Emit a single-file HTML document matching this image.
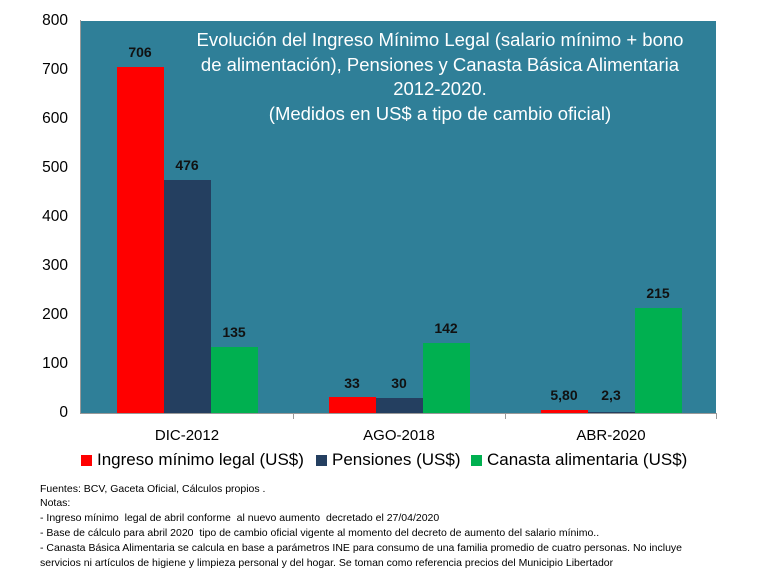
<!DOCTYPE html>
<html><head><meta charset="utf-8"><style>
body{margin:0;width:768px;height:576px;background:#fff;position:relative;overflow:hidden;font-family:"Liberation Sans",sans-serif}
.a{position:absolute}
.yl{position:absolute;right:700px;font-size:15.5px;color:#000;line-height:16px}
.bar{position:absolute}
.v{position:absolute;font-weight:bold;font-size:14px;width:60px;text-align:center;color:#111}
.n{position:absolute;left:40px;font-size:10.5px;color:#000;white-space:nowrap}
</style></head><body>
<div class="a" style="left:81px;top:21px;width:635px;height:392px;background:#2f7f98"></div>
<div class="a" style="left:80px;top:20px;width:1px;height:394px;background:#999"></div>
<div class="a" style="left:80px;top:413px;width:636px;height:1px;background:#999"></div>
<div class="a" style="left:293px;top:413px;width:1px;height:6px;background:#999"></div>
<div class="a" style="left:505px;top:413px;width:1px;height:6px;background:#999"></div>
<div class="a" style="left:716px;top:413px;width:1px;height:6px;background:#999"></div>
<div class="yl" style="top:13px">800</div><div class="yl" style="top:62px">700</div><div class="yl" style="top:111px">600</div><div class="yl" style="top:160px">500</div><div class="yl" style="top:209px">400</div><div class="yl" style="top:258px">300</div><div class="yl" style="top:307px">200</div><div class="yl" style="top:356px">100</div><div class="yl" style="top:405px">0</div>
<div class="bar" style="left:117px;top:67px;width:47px;height:346px;background:#ff0000"></div>
<div class="bar" style="left:164px;top:180px;width:47px;height:233px;background:#243f60"></div>
<div class="bar" style="left:211px;top:347px;width:47px;height:66px;background:#00b050"></div>
<div class="bar" style="left:329px;top:397px;width:47px;height:16px;background:#ff0000"></div>
<div class="bar" style="left:376px;top:398px;width:47px;height:15px;background:#243f60"></div>
<div class="bar" style="left:423px;top:343px;width:47px;height:70px;background:#00b050"></div>
<div class="bar" style="left:541px;top:410px;width:47px;height:3px;background:#ff0000"></div>
<div class="bar" style="left:588px;top:412px;width:47px;height:1px;background:#243f60"></div>
<div class="bar" style="left:635px;top:308px;width:47px;height:105px;background:#00b050"></div>
<div class="v" style="left:110px;top:44px">706</div>
<div class="v" style="left:157px;top:157px">476</div>
<div class="v" style="left:204px;top:324px">135</div>
<div class="v" style="left:322px;top:375px">33</div>
<div class="v" style="left:369px;top:375px">30</div>
<div class="v" style="left:416px;top:320px">142</div>
<div class="v" style="left:534px;top:387px">5,80</div>
<div class="v" style="left:581px;top:387px">2,3</div>
<div class="v" style="left:628px;top:285px">215</div>
<div class="a" style="left:155px;top:28px;width:570px;text-align:center;color:#fff;font-size:18.5px;line-height:24.5px">Evolución del Ingreso Mínimo Legal (salario mínimo + bono<br>de alimentación), Pensiones y Canasta Básica Alimentaria<br>2012-2020.<br>(Medidos en US$ a tipo de cambio oficial)</div>
<div class="a" style="left:137px;top:427px;width:100px;text-align:center;font-size:15px">DIC-2012</div>
<div class="a" style="left:349px;top:427px;width:100px;text-align:center;font-size:15px">AGO-2018</div>
<div class="a" style="left:561px;top:427px;width:100px;text-align:center;font-size:15px">ABR-2020</div>
<div class="a" style="left:81px;top:455px;width:11px;height:11px;background:#ff0000"></div>
<div class="a" style="left:97px;top:450px;font-size:17px">Ingreso mínimo legal (US$)</div>
<div class="a" style="left:316px;top:455px;width:11px;height:11px;background:#243f60"></div>
<div class="a" style="left:332px;top:450px;font-size:17px">Pensiones (US$)</div>
<div class="a" style="left:471px;top:455px;width:11px;height:11px;background:#00b050"></div>
<div class="a" style="left:487px;top:450px;font-size:17px">Canasta alimentaria (US$)</div>
<div class="n" style="top:483px">Fuentes: BCV, Gaceta Oficial, Cálculos propios .</div>
<div class="n" style="top:497px">Notas:</div>
<div class="n" style="top:512px">- Ingreso mínimo&nbsp; legal de abril conforme&nbsp; al nuevo aumento&nbsp; decretado el 27/04/2020</div>
<div class="n" style="top:527px">- Base de cálculo para abril 2020&nbsp; tipo de cambio oficial vigente al momento del decreto de aumento del salario mínimo..</div>
<div class="n" style="top:542px">- Canasta Básica Alimentaria se calcula en base a parámetros INE para consumo de una familia promedio de cuatro personas. No incluye</div>
<div class="n" style="top:557px">servicios ni artículos de higiene y limpieza personal y del hogar. Se toman como referencia precios del Municipio Libertador</div>
</body></html>
